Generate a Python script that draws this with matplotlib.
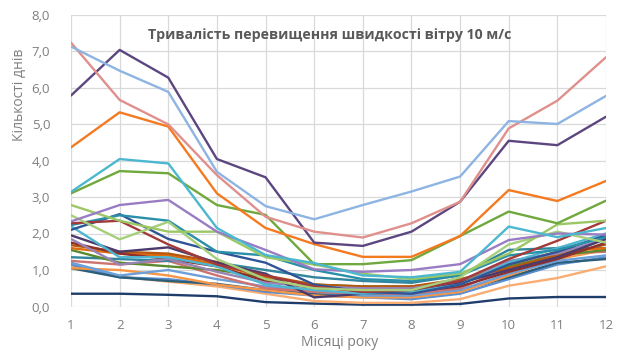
import matplotlib
matplotlib.use("Agg")
import matplotlib.pyplot as plt

plt.rcParams['font.family'] = ['Open Sans', 'DejaVu Sans']

months = list(range(1, 12 + 1))
y_ticks = [0, 1, 2, 3, 4, 5, 6, 7, 8]
y_tick_labels = ["0,0", "1,0", "2,0", "3,0", "4,0", "5,0", "6,0", "7,0", "8,0"]

title = "Тривалість перевищення швидкості вітру 10 м/с"
x_label = "Місяці року"
y_label = "Кількості днів"

# Monthly number of days with wind speed above 10 m/s, one list per station
st_navy       = [0.35, 0.35, 0.32, 0.28, 0.12, 0.08, 0.05, 0.05, 0.07, 0.22, 0.26, 0.26]
st_lt_orange  = [1.12, 0.82, 0.68, 0.55, 0.35, 0.15, 0.10, 0.10, 0.20, 0.57, 0.78, 1.10]
st_steel      = [1.15, 0.80, 0.75, 0.60, 0.40, 0.30, 0.25, 0.20, 0.35, 0.75, 1.15, 1.35]
st_blue_dk    = [1.05, 0.80, 0.70, 0.62, 0.45, 0.35, 0.30, 0.30, 0.45, 0.80, 1.20, 1.30]
st_orange2    = [1.05, 1.00, 0.85, 0.60, 0.45, 0.30, 0.25, 0.25, 0.40, 0.85, 1.30, 1.55]
st_blue       = [1.20, 0.85, 1.00, 0.75, 0.55, 0.40, 0.30, 0.30, 0.45, 0.90, 1.25, 1.40]
st_rose       = [1.25, 1.15, 1.25, 0.85, 0.50, 0.40, 0.35, 0.35, 0.50, 1.05, 1.45, 1.50]
st_teal2      = [1.35, 1.30, 1.25, 1.20, 1.00, 0.80, 0.70, 0.65, 0.85, 1.55, 1.60, 1.60]
st_green_dk   = [1.55, 1.20, 1.10, 1.00, 0.80, 0.60, 0.55, 0.55, 0.70, 1.10, 1.40, 1.55]
st_orange_dk  = [1.60, 1.45, 1.40, 1.15, 0.80, 0.60, 0.50, 0.50, 0.70, 1.15, 1.50, 1.60]
st_brown      = [1.68, 1.50, 1.45, 1.22, 0.85, 0.60, 0.55, 0.55, 0.75, 1.05, 1.40, 1.70]
st_red_dk2    = [1.75, 1.45, 1.30, 1.10, 0.70, 0.50, 0.45, 0.40, 0.55, 0.95, 1.30, 1.75]
st_purple2    = [1.85, 1.15, 1.30, 0.95, 0.65, 0.55, 0.50, 0.50, 0.70, 1.25, 1.45, 1.85]
st_purple_dk2 = [1.95, 1.50, 1.62, 1.20, 0.90, 0.25, 0.35, 0.40, 0.65, 1.00, 1.35, 1.85]
st_cyan2      = [2.20, 1.35, 1.35, 1.10, 0.60, 0.45, 0.35, 0.40, 0.60, 1.20, 1.60, 2.00]
st_blue_navy  = [2.10, 2.53, 1.85, 1.50, 1.20, 0.60, 0.40, 0.35, 0.60, 1.15, 1.50, 1.95]
st_teal       = [2.23, 2.50, 2.35, 1.50, 1.40, 1.00, 0.75, 0.70, 0.85, 1.40, 1.55, 1.90]
st_red_dk     = [2.28, 2.35, 1.70, 1.15, 0.85, 0.55, 0.40, 0.45, 0.70, 1.30, 1.80, 2.35]
st_lt_green_b = [2.50, 1.84, 2.32, 1.30, 0.75, 0.50, 0.45, 0.45, 0.80, 1.70, 2.05, 1.75]
st_lt_green_a = [2.78, 2.35, 2.05, 2.05, 1.35, 1.15, 0.90, 0.75, 0.90, 1.45, 2.25, 2.35]
st_lavender   = [2.33, 2.78, 2.92, 2.05, 1.55, 1.02, 0.95, 1.00, 1.16, 1.82, 2.00, 1.97]
st_green      = [3.10, 3.71, 3.65, 2.78, 2.51, 1.16, 1.16, 1.27, 1.93, 2.60, 2.28, 2.90]
st_cyan       = [3.14, 4.04, 3.92, 2.15, 1.41, 1.19, 0.85, 0.80, 0.95, 2.19, 1.90, 2.15]
st_orange     = [4.36, 5.32, 4.93, 3.10, 2.15, 1.71, 1.36, 1.36, 1.93, 3.19, 2.89, 3.44]
st_purple_dk  = [5.78, 7.03, 6.27, 4.04, 3.54, 1.75, 1.66, 2.05, 2.87, 4.54, 4.42, 5.20]
st_pink       = [7.23, 5.66, 4.99, 3.60, 2.46, 2.05, 1.89, 2.28, 2.87, 4.88, 5.64, 6.83]
st_lt_blue    = [7.12, 6.46, 5.88, 3.69, 2.75, 2.39, 2.78, 3.15, 3.56, 5.08, 5.00, 5.77]

series = [
    (st_navy, "#1f3d6b"),
    (st_lt_orange, "#f9ad72"),
    (st_steel, "#5b8fd0"),
    (st_blue_dk, "#2c5f7a"),
    (st_orange2, "#f79646"),
    (st_blue, "#6d9fd8"),
    (st_rose, "#cd7371"),
    (st_teal2, "#31859c"),
    (st_green_dk, "#5a8a2e"),
    (st_orange_dk, "#e26b0a"),
    (st_brown, "#b8580f"),
    (st_red_dk2, "#8c2f2d"),
    (st_purple2, "#9983b5"),
    (st_purple_dk2, "#4b3a6b"),
    (st_cyan2, "#4fb6cf"),
    (st_blue_navy, "#2f5597"),
    (st_teal, "#2a8fa8"),
    (st_red_dk, "#a33a3a"),
    (st_lt_green_b, "#a6cf7c"),
    (st_lt_green_a, "#9bc865"),
    (st_lavender, "#9a7cc4"),
    (st_green, "#6fa83c"),
    (st_cyan, "#4bb8d0"),
    (st_orange, "#f47a20"),
    (st_purple_dk, "#5c4680"),
    (st_pink, "#e0908c"),
    (st_lt_blue, "#8db4e2"),
]

fig = plt.figure(figsize=(6.19, 3.53), dpi=100)
ax = fig.add_axes([71 / 619, 46.5 / 353, (606 - 71) / 619, 292 / 353])

for values, color in series:
    ax.plot(months, values, color=color, linewidth=1.7, solid_capstyle="round")

ax.set_xlim(1, 12)
ax.set_ylim(0, 8)
ax.set_xticks(months)
ax.set_xticklabels([str(m) for m in months])
ax.set_yticks(y_ticks)
ax.set_yticklabels(y_tick_labels)

ax.grid(True, color="#d9d9d9", linewidth=0.9)
ax.set_axisbelow(True)
for side in ("top", "right", "left", "bottom"):
    ax.spines[side].set_visible(False)
ax.tick_params(axis="both", length=0, colors="#7f7f7f", labelsize=9.5)
ax.tick_params(axis="x", pad=9)
ax.tick_params(axis="y", pad=15)

ax.text(0.484, 0.93, title, transform=ax.transAxes, ha="center", va="center",
        fontsize=10.2, fontweight="bold", color="#595959")

fig.text(340 / 619, 1 - 343 / 353, x_label, ha="center", va="center",
         fontsize=10, color="#7f7f7f")
fig.text(20 / 619, 1 - 95 / 353, y_label, ha="center", va="center",
         rotation=90, fontsize=10, color="#7f7f7f")

fig.savefig("out.png", dpi=100, facecolor="white")
